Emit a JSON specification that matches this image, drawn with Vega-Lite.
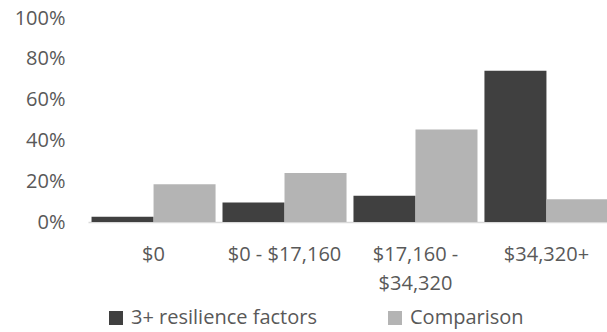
{
  "$schema": "https://vega.github.io/schema/vega-lite/v6.json",
  "width": 519,
  "height": 204,
  "autosize": {"type": "none"},
  "padding": {"left": 88, "top": 18, "right": 0, "bottom": 110},
  "background": "white",
  "config": {"view": {"stroke": null}, "font": "Open Sans"},
  "data": {
    "values": [
      {"income": "$0", "group": "3+ resilience factors", "pct": 0.026},
      {"income": "$0", "group": "Comparison", "pct": 0.185},
      {"income": "$0 - $17,160", "group": "3+ resilience factors", "pct": 0.096},
      {"income": "$0 - $17,160", "group": "Comparison", "pct": 0.24},
      {"income": "$17,160 - $34,320", "group": "3+ resilience factors", "pct": 0.129},
      {"income": "$17,160 - $34,320", "group": "Comparison", "pct": 0.454},
      {"income": "$34,320+", "group": "3+ resilience factors", "pct": 0.742},
      {"income": "$34,320+", "group": "Comparison", "pct": 0.111}
    ]
  },
  "mark": {"type": "bar"},
  "encoding": {
    "x": {
      "field": "income",
      "type": "nominal",
      "sort": ["$0", "$0 - $17,160", "$17,160 - $34,320", "$34,320+"],
      "scale": {"range": [0, 524], "paddingInner": 0.053, "paddingOuter": 0.027},
      "axis": {
        "title": null,
        "labelAngle": 0,
        "ticks": false,
        "domain": true,
        "domainColor": "#d9d9d9",
        "domainWidth": 1.5,
        "labelFontSize": 20,
        "labelColor": "#595959",
        "labelPadding": 22,
        "labelLineHeight": 29,
        "labelLimit": 300,
        "labelExpr": "datum.value == '$17,160 - $34,320' ? ['$17,160 -', '$34,320'] : datum.label"
      }
    },
    "xOffset": {
      "field": "group",
      "type": "nominal",
      "sort": ["3+ resilience factors", "Comparison"]
    },
    "y": {
      "field": "pct",
      "type": "quantitative",
      "scale": {"domain": [0, 1]},
      "axis": {
        "title": null,
        "values": [0, 0.2, 0.4, 0.6, 0.8, 1],
        "format": ".0%",
        "ticks": false,
        "domain": false,
        "grid": false,
        "labelFontSize": 20,
        "labelColor": "#595959",
        "labelPadding": 23
      }
    },
    "color": {
      "field": "group",
      "type": "nominal",
      "scale": {"domain": ["3+ resilience factors", "Comparison"], "range": ["#404040", "#b4b4b4"]},
      "legend": {
        "title": null,
        "orient": "none",
        "legendX": 18,
        "legendY": 290,
        "direction": "horizontal",
        "symbolType": "square",
        "symbolSize": 196,
        "symbolStrokeWidth": 0,
        "labelFontSize": 20,
        "labelColor": "#595959",
        "labelLimit": 400,
        "labelOffset": 5,
        "columnPadding": 68
      }
    }
  }
}
